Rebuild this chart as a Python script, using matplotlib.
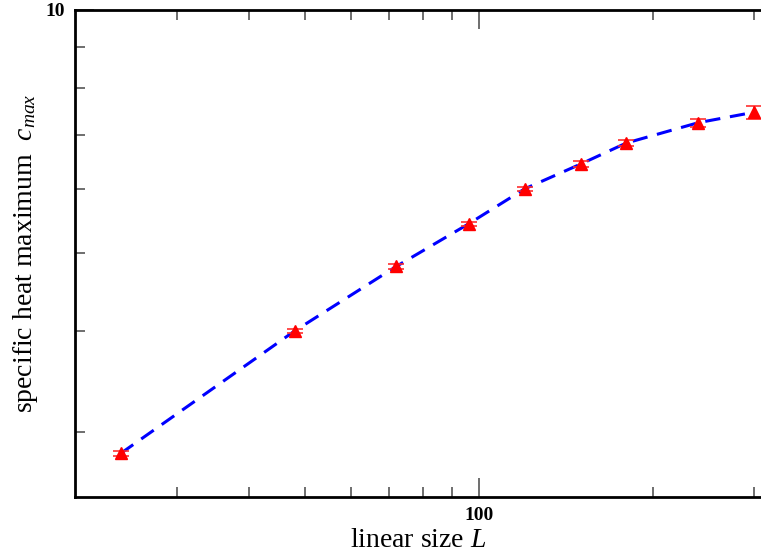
import numpy as np
import matplotlib.pyplot as plt
from matplotlib.ticker import FixedLocator, NullFormatter, FixedFormatter

# data
L = [24, 48, 72, 96, 120, 150, 180, 240, 300]
cmax = [2.82, 4.00, 4.81, 5.43, 6.00, 6.44, 6.84, 7.25, 7.47]
err = [0.02, 0.025, 0.03, 0.035, 0.04, 0.05, 0.06, 0.08, 0.14]

plt.rcParams['font.family'] = ['Liberation Serif', 'DejaVu Serif']
plt.rcParams['mathtext.fontset'] = 'custom'
plt.rcParams['mathtext.it'] = 'Liberation Serif:italic'
plt.rcParams['mathtext.rm'] = 'Liberation Serif'

fig = plt.figure(figsize=(7.61, 5.52), dpi=100)
ax = fig.add_axes([75/761, 1 - 497/552, 1 - 75/761, (497 - 10)/552])

ax.plot(L, cmax, '--', color='#0000ff', lw=2.2, dashes=(5, 3.2), zorder=2)
ax.errorbar(L, cmax, yerr=err, fmt='none', ecolor='#ff3030', elinewidth=1.2,
            capsize=6, capthick=1.2, zorder=3)
ax.plot(L, cmax, '^', color='#ff0000', ms=9, mec='#ff0000', zorder=4)

ax.set_xscale('log')
ax.set_yscale('log')
ax.set_xlim(20, 308)
ax.set_ylim(2.49, 10)

ax.xaxis.set_major_locator(FixedLocator([100]))
ax.xaxis.set_major_formatter(FixedFormatter(['100']))
ax.xaxis.set_minor_locator(FixedLocator([30, 40, 50, 60, 70, 80, 90, 200, 300]))
ax.xaxis.set_minor_formatter(NullFormatter())
ax.yaxis.set_major_locator(FixedLocator([10]))
ax.yaxis.set_major_formatter(FixedFormatter(['10']))
ax.yaxis.set_minor_locator(FixedLocator([3, 4, 5, 6, 7, 8, 9]))
ax.yaxis.set_minor_formatter(NullFormatter())

ax.tick_params(which='both', direction='in', top=True, right=False,
               color='#555555', width=1.2)
ax.tick_params(which='major', length=14, labelsize=14, pad=7)
ax.tick_params(which='minor', length=7)
for lab in ax.get_xticklabels() + ax.get_yticklabels():
    lab.set_fontweight('bold')

for s in ['left', 'bottom', 'top']:
    ax.spines[s].set_linewidth(2)
ax.spines['right'].set_visible(False)

ax.set_xlabel('linear size $L$', fontsize=20, labelpad=3)
ax.set_ylabel('specific heat maximum  $c_{max}$', fontsize=20, labelpad=4)

fig.savefig('out.png', dpi=100)
